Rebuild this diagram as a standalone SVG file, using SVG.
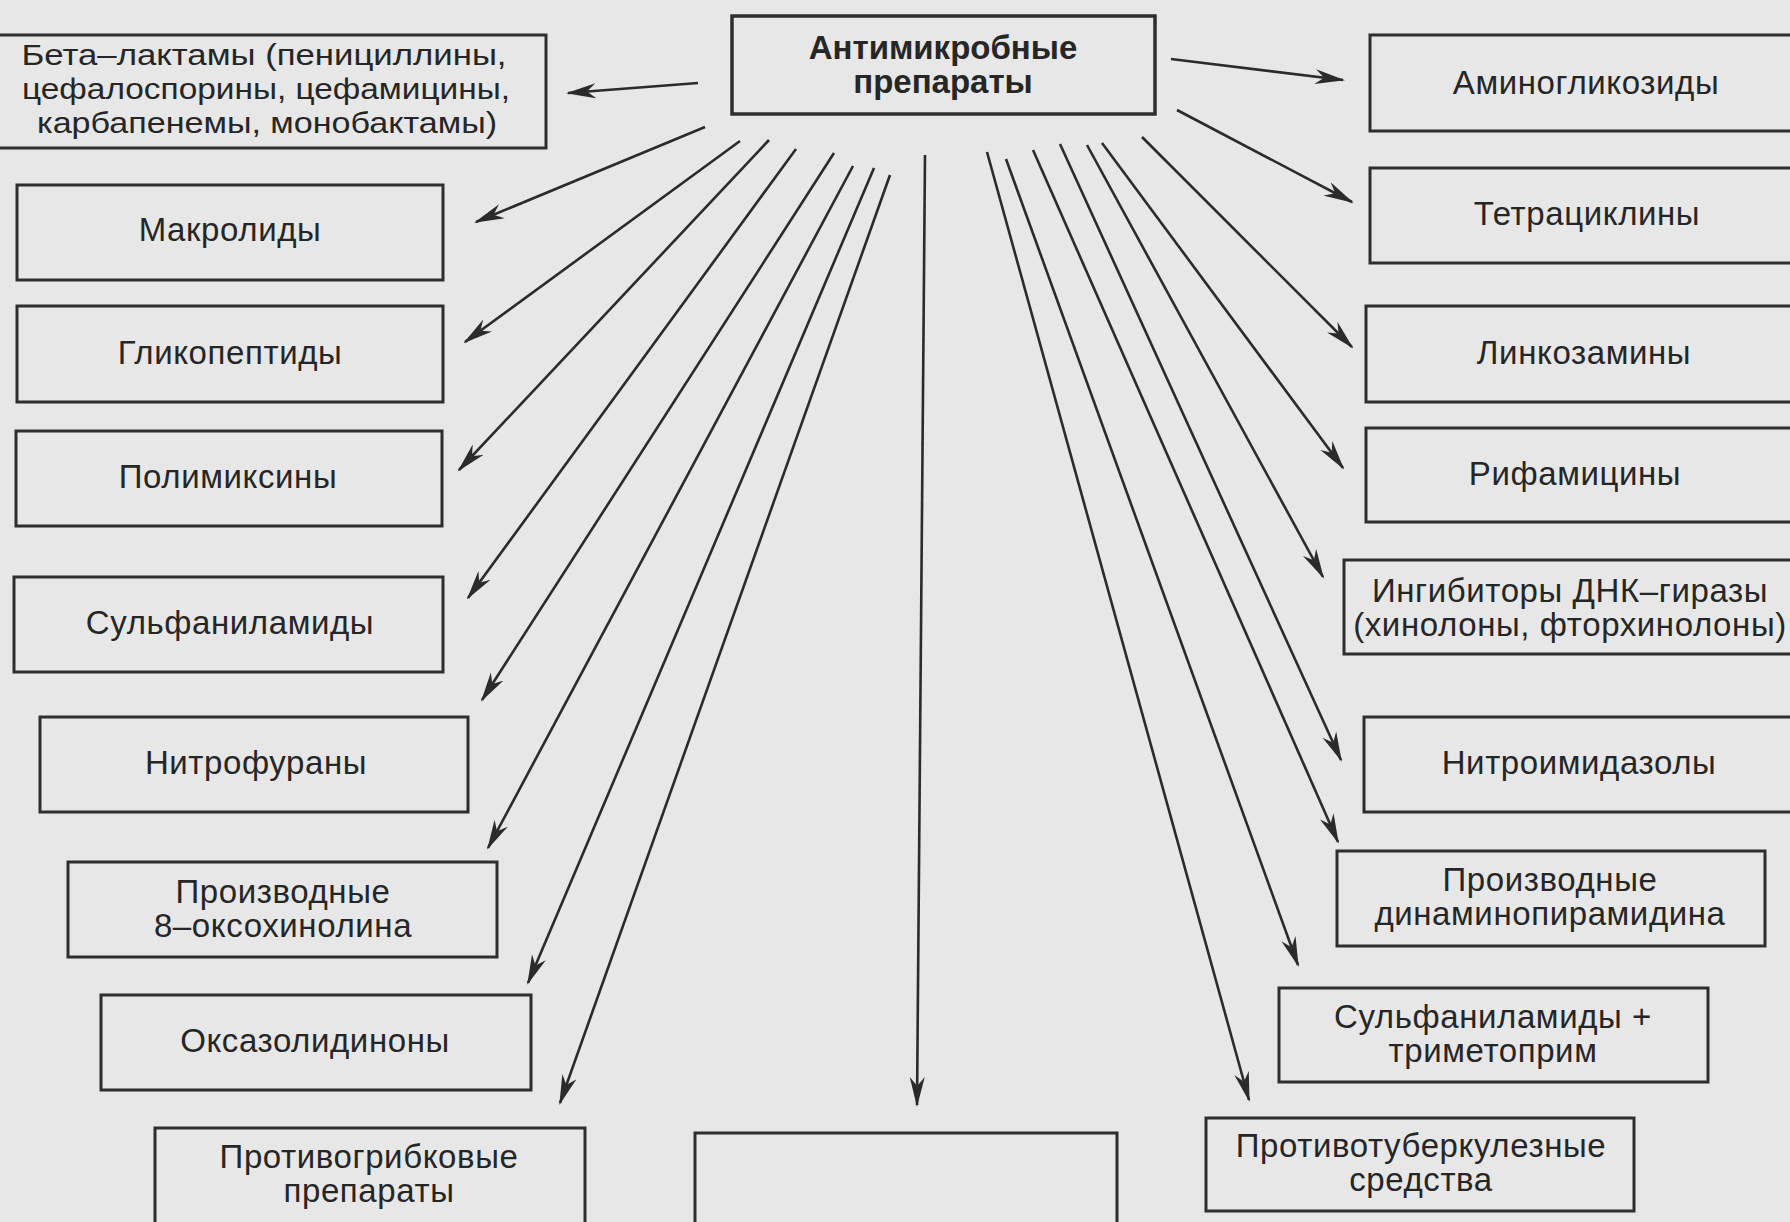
<svg xmlns="http://www.w3.org/2000/svg" width="1790" height="1222" viewBox="0 0 1790 1222">
<style>
.bg{fill:#e7e7e7}
.box{fill:none;stroke:#2e2e2e;stroke-width:3}
.box2{fill:none;stroke:#2e2e2e;stroke-width:3.5}
text{font-family:"Liberation Sans",Arial,sans-serif;font-size:33px;fill:#262626;text-anchor:middle;letter-spacing:0.6px}
.b{font-weight:bold;font-size:33px;letter-spacing:0}
.s{font-size:30px;letter-spacing:0}
.c line{stroke:#2b2b2b;stroke-width:2.6;marker-end:url(#ah)}
</style>
<defs>
<marker id="ah" markerUnits="userSpaceOnUse" markerWidth="30" markerHeight="16" viewBox="0 0 30 16" refX="28" refY="8" orient="auto">
<path d="M0,0.5 L30,8 L0,15.5 L9,8 Z" fill="#2b2b2b"/>
</marker>
</defs>
<rect class="bg" x="0" y="0" width="1790" height="1222"/>

<g id="n-center"><rect class="box2" x="732" y="16" width="423" height="98"/><text class="b" x="943"><tspan x="943" y="59">Антимикробные</tspan><tspan x="943" y="93">препараты</tspan></text></g>

<g id="n-beta"><rect class="box" x="-3" y="35" width="549" height="113"/><text class="s"><tspan x="264" y="65" textLength="485" lengthAdjust="spacingAndGlyphs">Бета–лактамы (пенициллины,</tspan><tspan x="266" y="99" textLength="488" lengthAdjust="spacingAndGlyphs">цефалоспорины, цефамицины,</tspan><tspan x="267" y="133" textLength="460" lengthAdjust="spacingAndGlyphs">карбапенемы, монобактамы)</tspan></text></g>
<g id="n-makrolidy"><rect class="box" x="17" y="185" width="426" height="95"/><text x="230" y="241">Макролиды</text></g>
<g id="n-glikopeptidy"><rect class="box" x="17" y="306" width="426" height="96"/><text x="230" y="364">Гликопептиды</text></g>
<g id="n-polimiksiny"><rect class="box" x="16" y="431" width="426" height="95"/><text x="228" y="488">Полимиксины</text></g>
<g id="n-sulfanilamidy"><rect class="box" x="14" y="577" width="429" height="95"/><text x="230" y="634">Сульфаниламиды</text></g>
<g id="n-nitrofurany"><rect class="box" x="40" y="717" width="428" height="95"/><text x="256" y="774">Нитрофураны</text></g>
<g id="n-oksohinolin"><rect class="box" x="68" y="862" width="429" height="95"/><text><tspan x="283" y="903">Производные</tspan><tspan x="283" y="937">8–оксохинолина</tspan></text></g>
<g id="n-oksazolidinony"><rect class="box" x="101" y="995" width="430" height="95"/><text x="315" y="1052">Оксазолидиноны</text></g>
<g id="n-protivogribkovye"><rect class="box" x="155" y="1128" width="430" height="110"/><text><tspan x="369" y="1168">Противогрибковые</tspan><tspan x="369" y="1202">препараты</tspan></text></g>
<g id="n-empty"><rect class="box" x="695" y="1133" width="422" height="110"/></g>

<g id="n-aminoglikozidy"><rect class="box" x="1370" y="35" width="440" height="96"/><text x="1586" y="94">Аминогликозиды</text></g>
<g id="n-tetraciklin"><rect class="box" x="1370" y="168" width="440" height="95"/><text x="1587" y="225">Тетрациклины</text></g>
<g id="n-linkozaminy"><rect class="box" x="1366" y="306" width="444" height="96"/><text x="1584" y="364">Линкозамины</text></g>
<g id="n-rifamiciny"><rect class="box" x="1366" y="428" width="444" height="94"/><text x="1575" y="485">Рифамицины</text></g>
<g id="n-ingibitory"><rect class="box" x="1344" y="560" width="466" height="94"/><text><tspan x="1570" y="602">Ингибиторы ДНК–гиразы</tspan><tspan x="1570" y="636">(хинолоны, фторхинолоны)</tspan></text></g>
<g id="n-nitroimidazoly"><rect class="box" x="1364" y="717" width="446" height="95"/><text x="1579" y="774">Нитроимидазолы</text></g>
<g id="n-dinaminopiramidin"><rect class="box" x="1337" y="851" width="428" height="95"/><text><tspan x="1550" y="891">Производные</tspan><tspan x="1550" y="925">динаминопирамидина</tspan></text></g>
<g id="n-sulf-trimetoprim"><rect class="box" x="1279" y="988" width="429" height="94"/><text><tspan x="1493" y="1028">Сульфаниламиды +</tspan><tspan x="1493" y="1062">триметоприм</tspan></text></g>
<g id="n-protivotuberkuleznye"><rect class="box" x="1206" y="1118" width="428" height="93"/><text><tspan x="1421" y="1157">Противотуберкулезные</tspan><tspan x="1421" y="1191">средства</tspan></text></g>

<g id="connectors" class="c">
<line x1="698" y1="83" x2="568" y2="93"/>
<line x1="705" y1="127" x2="476" y2="222"/>
<line x1="740" y1="141" x2="465" y2="342"/>
<line x1="769" y1="140" x2="459" y2="470"/>
<line x1="796" y1="149" x2="468" y2="598"/>
<line x1="834" y1="153" x2="482" y2="700"/>
<line x1="853" y1="166" x2="488" y2="848"/>
<line x1="874" y1="168" x2="528" y2="983"/>
<line x1="890" y1="175" x2="560" y2="1103"/>
<line x1="925" y1="155" x2="917" y2="1105"/>
<line x1="987" y1="152" x2="1249" y2="1100"/>
<line x1="1006" y1="159" x2="1298" y2="965"/>
<line x1="1033" y1="150" x2="1338" y2="842"/>
<line x1="1060" y1="144" x2="1341" y2="760"/>
<line x1="1087" y1="145" x2="1323" y2="577"/>
<line x1="1102" y1="143" x2="1343" y2="468"/>
<line x1="1142" y1="137" x2="1352" y2="347"/>
<line x1="1177" y1="110" x2="1352" y2="202"/>
<line x1="1171" y1="59" x2="1343" y2="80"/>
</g>
</svg>
